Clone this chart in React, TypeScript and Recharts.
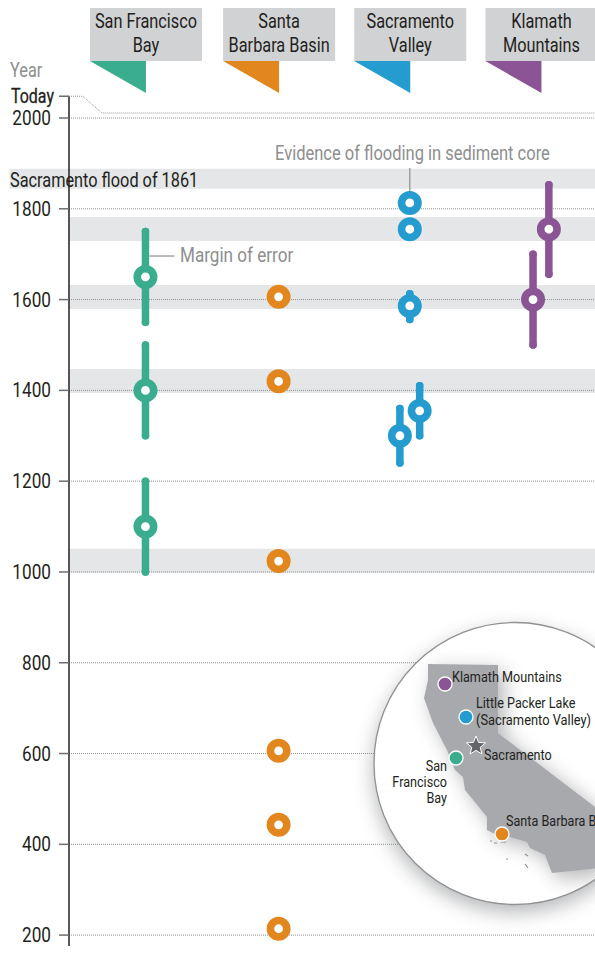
import { ScatterChart, Scatter, XAxis, YAxis, ErrorBar, ReferenceArea, ReferenceLine } from "recharts";

const FONT = "Roboto, sans-serif";
const DARK = "#231f20";
const GREY_TEXT = "#8c8e90";

// Sites / columns
const siteLines = [
  ["San Francisco", "Bay"],
  ["Santa", "Barbara Basin"],
  ["Sacramento", "Valley"],
  ["Klamath", "Mountains"],
];
const siteColors = ["#3aad8e", "#e2861e", "#259cd0", "#8a5495"];
const siteLanes = [0, 1.01, 2.005, 3];

// Flood evidence, year with margin of error
const sfYears = [1650, 1400, 1100];
const sfLow = [1550, 1300, 1000];
const sfHigh = [1750, 1500, 1200];

const sbYears = [1606, 1420, 1024, 606, 443, 214];

const svYears = [1813, 1755, 1586, 1300, 1355];
const svLanes = [2.005, 2.005, 2.005, 1.93, 2.08];
const svLow = [1813, 1755, 1556, 1240, 1300];
const svHigh = [1813, 1755, 1613, 1360, 1410];

const kmYears = [1755, 1600];
const kmLanes = [3.06, 2.94];
const kmLow = [1656, 1500];
const kmHigh = [1853, 1700];

// Grey bands marking flood periods
const bandLow = [1844, 1729, 1579, 1394, 998];
const bandHigh = [1888, 1782, 1632, 1447, 1051];

const gridYears = [2000, 1800, 1600, 1400, 1200, 1000, 800, 600, 400, 200];
const TODAY = 2048;
const yearTicks = [TODAY, ...gridYears];

// Broken axis connector from Today to the top of the chart
const todayLanes = [-0.58, -0.475, -0.33, 3.41];
const todayYears = [TODAY, TODAY, 2011, 2011];

const rows = (years: number[], lanes: number[], low: number[], high: number[]) =>
  years.map((year, i) => ({ lane: lanes[i], year, err: [year - low[i], high[i] - year] }));

const sfRows = rows(sfYears, sfYears.map(() => siteLanes[0]), sfLow, sfHigh);
const sbRows = sbYears.map((year) => ({ lane: siteLanes[1], year }));
const svRows = rows(svYears, svLanes, svLow, svHigh);
const kmRows = rows(kmYears, kmLanes, kmLow, kmHigh);
const todayRows = todayYears.map((year, i) => ({ lane: todayLanes[i], year }));

const ring = (color: string) => (props: any) =>
  <circle cx={props.cx} cy={props.cy} r={8.2} fill="#fff" stroke={color} strokeWidth={7.6} />;

// No condensed face is installed, so squeeze Roboto to the reference's width
function Narrow({ x, y, size = 20, fill = DARK, anchor = "start", bold = false, squeeze = 0.815, children }: any) {
  return (
    <text
      transform={`translate(${x} ${y}) scale(${squeeze} 1)`}
      textAnchor={anchor}
      fontFamily={FONT}
      fontSize={size}
      fill={fill}
      stroke={bold ? fill : "none"}
      strokeWidth={bold ? 0.3 : 0}
    >
      {children}
    </text>
  );
}

function SiteTick({ x, payload }: any) {
  const i = siteLanes.indexOf(payload.value);
  const left = x - 55.5;
  return (
    <g>
      <rect x={left} y={8} width={112} height={53} fill="#d1d2d4" />
      <polygon points={`${left},61 ${x + 0.5},61 ${x + 0.5},93`} fill={siteColors[i]} />
      {siteLines[i].map((line, k) => (
        <Narrow key={line} x={x + 0.5} y={28 + k * 24} anchor="middle">{line}</Narrow>
      ))}
    </g>
  );
}

function YearTick({ x, y, payload }: any) {
  const today = payload.value === TODAY;
  return (
    <Narrow x={x + (today ? -3 : -6)} y={y + 7} squeeze={today ? 0.8 : 0.86} anchor="end" bold={today}>
      {today ? "Today" : payload.value}
    </Narrow>
  );
}

const stateOutline =
  "M428,664 L498,665 L498,733 L595,807 L600,868 L552,873 L550,868 L545,855 L530,848 L527,842 L510,837 L497,835 L487,830 L487,817 L465,790 L463,777 L455,770 L447,750 L433,723 L424,698 L428,680 Z";

function CaliforniaMap() {
  return (
    <svg width={595} height={967} style={{ position: "absolute", left: 0, top: 0 }}>
      <defs>
        <clipPath id="lens">
          <circle cx={515} cy={763.5} r={141} />
        </clipPath>
        <filter id="soft" x="-30%" y="-30%" width="160%" height="160%">
          <feGaussianBlur stdDeviation={10} />
        </filter>
      </defs>

      {/* annotations on the chart */}
      <Narrow x={10} y={77} fill={GREY_TEXT}>Year</Narrow>
      <Narrow x={10} y={187}>Sacramento flood of 1861</Narrow>
      <Narrow x={275} y={160} fill={GREY_TEXT} squeeze={0.825}>Evidence of flooding in sediment core</Narrow>
      <Narrow x={180} y={262} fill={GREY_TEXT} squeeze={0.855}>Margin of error</Narrow>

      {/* locator map */}
      <circle cx={515} cy={771} r={141} fill="#808285" opacity={0.6} filter="url(#soft)" />
      <circle cx={515} cy={763.5} r={141} fill="#fff" />
      <g clipPath="url(#lens)">
        <path d={stateOutline} transform="translate(6 6)" fill="#77787b" opacity={0.55} filter="url(#soft)" />
        <path d={stateOutline} fill="#a7a9ac" />
        <path d="M490,841 L492,841 M494,843 L497,843 M501,842 L506,842 M506,859 L508,859 M525,854 L528,856 M525,864 L528,868" stroke="#8f9193" strokeWidth={1.2} />
      </g>
      <circle cx={515} cy={763.5} r={141} fill="none" stroke="#8f9193" strokeWidth={1.3} />

      <polygon
        points="476,736 478.6,742.4 485.5,742.9 480.2,747.3 481.9,754 476,750.4 470.1,754 471.8,747.3 466.5,742.9 473.4,742.4"
        fill="#636466"
        stroke="#fff"
        strokeWidth={1}
      />
      <circle cx={445} cy={684} r={7} fill={siteColors[3]} stroke="#fff" strokeWidth={1.3} />
      <circle cx={466} cy={717} r={7} fill={siteColors[2]} stroke="#fff" strokeWidth={1.3} />
      <circle cx={456} cy={758} r={7} fill={siteColors[0]} stroke="#fff" strokeWidth={1.3} />
      <circle cx={502} cy={834} r={7} fill={siteColors[1]} stroke="#fff" strokeWidth={1.3} />

      <Narrow x={452} y={682} size={15.5}>Klamath Mountains</Narrow>
      <Narrow x={476} y={708} size={15.5}>Little Packer Lake</Narrow>
      <Narrow x={476} y={725} size={15.5} squeeze={0.83}>(Sacramento Valley)</Narrow>
      <Narrow x={484} y={760} size={15.5}>Sacramento</Narrow>
      <Narrow x={447} y={771} size={15.5} anchor="end">San</Narrow>
      <Narrow x={447} y={787} size={15.5} anchor="end">Francisco</Narrow>
      <Narrow x={447} y={803} size={15.5} anchor="end">Bay</Narrow>
      <Narrow x={506} y={826} size={15.5}>Santa Barbara Basin</Narrow>
    </svg>
  );
}

export default function App() {
  return (
    <div style={{ position: "absolute", left: 0, top: 0, width: 595, height: 967, overflow: "hidden", background: "#fff" }}>
      <ScatterChart width={595} height={967} margin={{ top: 0, right: 0, bottom: 21, left: 0 }}>
        <XAxis
          type="number"
          dataKey="lane"
          orientation="top"
          height={96}
          domain={[-0.58, 3.41]}
          ticks={siteLanes}
          interval={0}
          axisLine={false}
          tickLine={false}
          tick={<SiteTick />}
        />
        <YAxis
          type="number"
          dataKey="year"
          width={69}
          domain={[176, 2048.5]}
          ticks={yearTicks}
          interval={0}
          axisLine={{ stroke: DARK, strokeWidth: 1.5 }}
          tickLine={{ stroke: "#6d6e71", strokeWidth: 1.5 }}
          tickSize={10}
          tick={<YearTick />}
        />

        {bandLow.map((low, i) => (
          <ReferenceArea
            key={low}
            y1={low}
            y2={bandHigh[i]}
            x1={i === 0 ? -1.03 : -0.58}
            x2={3.41}
            ifOverflow="visible"
            fill="#e5e6e7"
            fillOpacity={1}
            stroke="none"
          />
        ))}
        {gridYears.map((year) => (
          <ReferenceLine key={year} y={year} stroke="#8f9193" strokeWidth={1} strokeDasharray="1 1" />
        ))}

        {/* leader lines */}
        <ReferenceLine segment={[{ x: 2.005, y: 1890 }, { x: 2.005, y: 1830 }]} stroke={GREY_TEXT} strokeWidth={1.2} />
        <ReferenceLine segment={[{ x: 0.03, y: 1696 }, { x: 0.22, y: 1696 }]} stroke={GREY_TEXT} strokeWidth={1.2} />

        <Scatter
          data={todayRows}
          line={{ stroke: "#8f9193", strokeWidth: 1, strokeDasharray: "1 1" }}
          lineType="joint"
          shape={() => <g />}
          isAnimationActive={false}
        />

        <Scatter data={sfRows} shape={ring(siteColors[0])} isAnimationActive={false}>
          <ErrorBar dataKey="err" direction="y" width={0} stroke={siteColors[0]} strokeWidth={7.5} strokeLinecap="round" isAnimationActive={false} />
        </Scatter>
        <Scatter data={sbRows} shape={ring(siteColors[1])} isAnimationActive={false} />
        <Scatter data={svRows} shape={ring(siteColors[2])} isAnimationActive={false}>
          <ErrorBar dataKey="err" direction="y" width={0} stroke={siteColors[2]} strokeWidth={7.5} strokeLinecap="round" isAnimationActive={false} />
        </Scatter>
        <Scatter data={kmRows} shape={ring(siteColors[3])} isAnimationActive={false}>
          <ErrorBar dataKey="err" direction="y" width={0} stroke={siteColors[3]} strokeWidth={7.5} strokeLinecap="round" isAnimationActive={false} />
        </Scatter>
      </ScatterChart>
      <CaliforniaMap />
    </div>
  );
}
